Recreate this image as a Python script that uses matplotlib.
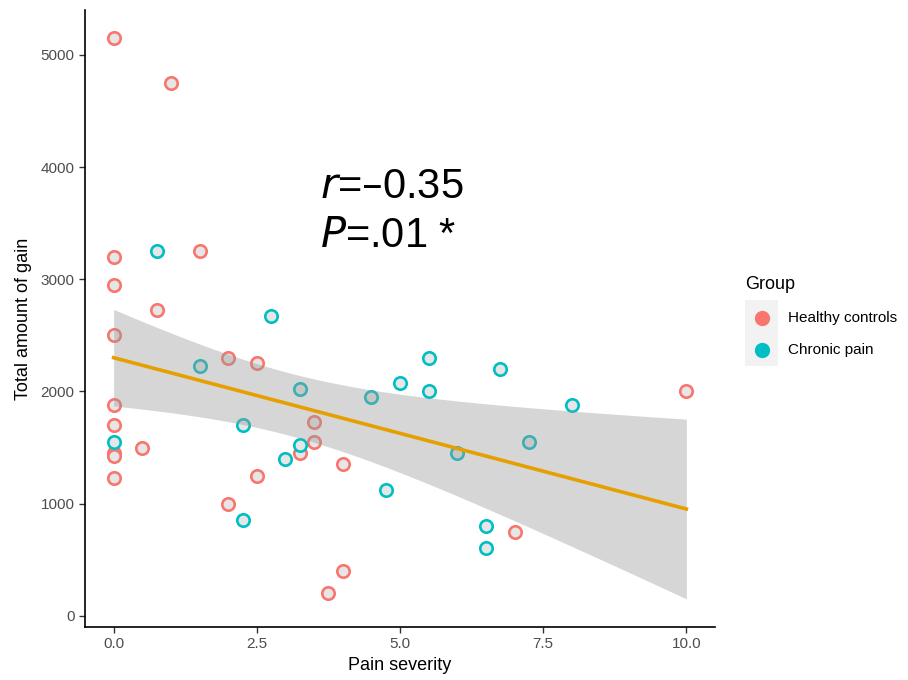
import numpy as np
import matplotlib
matplotlib.use("Agg")
import matplotlib.pyplot as plt
from matplotlib.lines import Line2D
from matplotlib.patches import Rectangle

plt.rcParams['font.family'] = ['Liberation Sans', 'DejaVu Sans']

# pain severity / total gain, per group
healthy_x = [0, 1.0, 0, 0, 0.75, 1.5, 0, 2.0, 2.5, 0, 0, 0, 0, 0,
             0.5, 2.0, 2.5, 3.25, 3.5, 3.5, 4.0, 4.0, 3.75, 7.0, 10.0]
healthy_y = [5150, 4750, 3200, 2950, 2725, 3250, 2500, 2300, 2250, 1875, 1700, 1450, 1425, 1225,
             1500, 1000, 1250, 1450, 1725, 1550, 1350, 400, 200, 750, 2000]
chronic_x = [0.75, 2.75, 1.5, 3.25, 4.5, 5.0, 5.5, 5.5, 6.75, 8.0,
             7.25, 6.0, 2.25, 3.25, 3.0, 4.75, 2.25, 6.5, 6.5, 0]
chronic_y = [3250, 2675, 2225, 2025, 1950, 2075, 2300, 2000, 2200, 1875,
             1550, 1450, 1700, 1525, 1400, 1125, 850, 800, 600, 1550]

group_names = ["Healthy controls", "Chronic pain"]
group_colors = ["#F8766D", "#00BFC4"]
x_ticks = [0.0, 2.5, 5.0, 7.5, 10.0]
y_ticks = [0, 1000, 2000, 3000, 4000, 5000]

fig = plt.figure(figsize=(9.08, 6.8), dpi=100)
ax = fig.add_axes([85/908, 1 - 627/680, 630/908, 617/680])

ax.scatter(healthy_x, healthy_y, s=80, facecolor="#e6e6e6", edgecolor=group_colors[0],
           linewidth=1.9, zorder=2)
ax.scatter(chronic_x, chronic_y, s=80, facecolor="#e6e6e6", edgecolor=group_colors[1],
           linewidth=1.9, zorder=2)

# linear fit + 95% CI on all points
x = np.array(healthy_x + chronic_x, dtype=float)
y = np.array(healthy_y + chronic_y, dtype=float)
n = len(x)
slope, intercept = np.polyfit(x, y, 1)
xs = np.linspace(x.min(), x.max(), 80)
ys = intercept + slope * xs
resid = y - (intercept + slope * x)
s_err = np.sqrt(np.sum(resid**2) / (n - 2))
se = s_err * np.sqrt(1/n + (xs - x.mean())**2 / np.sum((x - x.mean())**2))
tval = 2.015  # t(0.975, df~44)
ax.fill_between(xs, ys - tval*se, ys + tval*se, color="#999999", alpha=0.4,
                linewidth=0, zorder=3)
ax.plot(xs, ys, color="#E69F00", linewidth=2.6, zorder=4)

ax.text(3.6, 3720, r"$\it{r}$=–0.35", fontsize=30, ha="left", va="baseline")
ax.text(3.6, 3290, r"$\it{P}$=.01 *", fontsize=30, ha="left", va="baseline")

ax.set_xlim(-0.5, 10.5)
ax.set_ylim(-100, 5400)
ax.set_xticks(x_ticks)
ax.set_xticklabels([f"{t:.1f}" for t in x_ticks])
ax.set_yticks(y_ticks)
for s in ["top", "right"]:
    ax.spines[s].set_visible(False)
for s in ["left", "bottom"]:
    ax.spines[s].set_linewidth(1.2)
ax.tick_params(length=4, width=1.0, labelsize=11, labelcolor="#4d4d4d", color="#333333")
ax.set_xlabel("Pain severity", fontsize=13, labelpad=4)
ax.set_ylabel("Total amount of gain", fontsize=13, labelpad=6)

# legend
fig.text(745/908, 1 - 284/680, "Group", fontsize=13, va="center", ha="left")
fig.add_artist(Rectangle((745/908, 1 - 366/680), 33/908, 66/680,
                         transform=fig.transFigure, facecolor="#f2f2f2", edgecolor="none"))
for i, (name, col) in enumerate(zip(group_names, group_colors)):
    yy = 1 - (318 + 32*i)/680
    fig.add_artist(Line2D([762/908], [yy], marker="o", markersize=10, color=col,
                          linestyle="none", transform=fig.transFigure))
    fig.text(788/908, yy, name, fontsize=11, va="center", ha="left")

fig.savefig("out.png", dpi=100)
